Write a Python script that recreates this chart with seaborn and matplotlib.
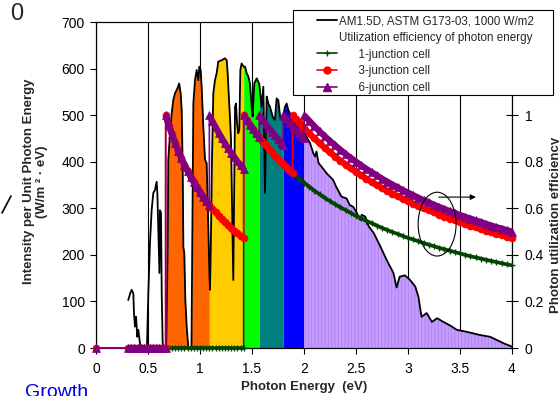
import numpy as np
import pandas as pd
import matplotlib
matplotlib.use("Agg")
import matplotlib.pyplot as plt
import seaborn as sns
from matplotlib.patches import Ellipse, Rectangle
from matplotlib.lines import Line2D

# ---------------- data ----------------
spec_energy = [
    0.31, 0.33, 0.343, 0.359, 0.365, 0.375, 0.385, 0.397, 0.407, 0.423,
    0.43, 0.49, 0.503, 0.519, 0.535, 0.551, 0.567, 0.583, 0.59, 0.60,
    0.61, 0.615, 0.625, 0.632, 0.641, 0.65, 0.675, 0.69, 0.695, 0.71,
    0.728, 0.743, 0.76, 0.782, 0.80, 0.814, 0.824, 0.834, 0.84, 0.849,
    0.859, 0.872, 0.888, 0.918, 0.926, 0.936, 0.952, 0.968, 0.984, 0.994,
    1.006, 1.016, 1.032, 1.048, 1.064, 1.08, 1.09, 1.096, 1.103, 1.115,
    1.128, 1.144, 1.16, 1.176, 1.21, 1.24, 1.257, 1.266, 1.279, 1.288,
    1.298, 1.311, 1.32, 1.33, 1.337, 1.346, 1.356, 1.368, 1.378, 1.388,
    1.40, 1.42, 1.433, 1.449, 1.465, 1.48, 1.497, 1.506, 1.522, 1.545,
    1.57, 1.593, 1.609, 1.625, 1.641, 1.657, 1.673, 1.70, 1.72, 1.737,
    1.753, 1.77, 1.785, 1.80, 1.817, 1.833, 1.849, 1.88, 1.913, 1.978,
    2.00, 2.058, 2.09, 2.106, 2.12, 2.14, 2.17, 2.218, 2.28, 2.31,
    2.36, 2.41, 2.44, 2.474, 2.51, 2.54, 2.555, 2.59, 2.62, 2.67,
    2.73, 2.795, 2.86, 2.89, 2.92, 2.97, 3.02, 3.07, 3.10, 3.13,
    3.18, 3.23, 3.28, 3.34, 3.40, 3.47, 3.56, 3.69, 3.79, 3.92,
    4.00,
]
spec_intensity = [
    103, 118, 125, 117, 75, 46, 67, 24, 39, 10,
    0, 0, 117, 225, 296, 333, 339, 357, 333, 247,
    161, 296, 290, 117, 10, 0, 0, 225, 404, 454,
    504, 532, 547, 557, 568, 547, 511, 382, 217, 204,
    103, 46, 0, 0, 225, 525, 575, 597, 575, 604,
    597, 561, 475, 404, 397, 260, 161, 125, 204, 400,
    547, 575, 590, 615, 618, 622, 618, 590, 532, 497,
    447, 268, 146, 375, 518, 525, 483, 461, 468, 597,
    611, 604, 604, 590, 583, 568, 518, 497, 568, 579,
    567, 518, 561, 333, 540, 525, 518, 496, 490, 536,
    532, 497, 490, 497, 518, 525, 511, 497, 490, 475,
    463, 440, 418, 411, 422, 397, 389, 375, 361, 346,
    325, 321, 307, 303, 289, 275, 286, 282, 262, 247,
    220, 189, 161, 130, 153, 156, 146, 132, 110, 67,
    75, 56, 64, 56, 49, 39, 35, 28, 24, 10,
    3,
]

# sub-cell colour bands (6-junction band gaps)
band_lo = [0.67, 1.09, 1.42, 1.57, 1.80, 2.00]
band_hi = [1.09, 1.42, 1.57, 1.80, 2.00, 4.00]
band_colors = ["#FF6600", "#FFCC00", "#00FF00", "#008080", "#0000FF", "#CC99FF"]

# photon-energy grids for the efficiency curves
energy_low = [0.0, 0.31, 0.34, 0.37, 0.40, 0.43, 0.46, 0.49, 0.52, 0.55, 0.58, 0.61, 0.64, 0.67]
eff_low = [0, 0, 0, 0, 0, 0, 0, 0, 0, 0, 0, 0, 0, 0]
energy_mid = [0.67, 0.70, 0.73, 0.76, 0.79, 0.82, 0.85, 0.88, 0.91, 0.94, 0.97, 1.00, 1.03,
              1.06, 1.09, 1.12, 1.15, 1.18, 1.21, 1.24, 1.27, 1.30, 1.33, 1.36, 1.39, 1.42]
energy_high = [1.42, 1.45, 1.48, 1.51, 1.54, 1.57, 1.60, 1.63, 1.66, 1.69, 1.72, 1.75, 1.78,
               1.80, 1.83, 1.86, 1.89, 1.92, 1.95, 1.98, 2.00, 2.05, 2.10, 2.15, 2.20, 2.25,
               2.30, 2.35, 2.40, 2.45, 2.50, 2.55, 2.60, 2.65, 2.70, 2.75, 2.80, 2.85, 2.90,
               2.95, 3.00, 3.05, 3.10, 3.15, 3.20, 3.25, 3.30, 3.35, 3.40, 3.45, 3.50, 3.55,
               3.60, 3.65, 3.70, 3.75, 3.80, 3.85, 3.90, 3.95, 4.00]

# efficiency values
eff_zero_mid = [0, 0, 0, 0, 0, 0, 0, 0, 0, 0, 0, 0, 0, 0, 0, 0, 0, 0, 0, 0, 0, 0, 0, 0, 0, 0]
eff_gap067 = [1.000, 0.957, 0.918, 0.882, 0.848, 0.817, 0.788, 0.761, 0.736, 0.713, 0.691,
              0.670, 0.650, 0.632, 0.615, 0.598, 0.583, 0.568, 0.554, 0.540, 0.528, 0.515,
              0.504, 0.493, 0.482, 0.472]
eff_gap109 = [1.000, 0.973, 0.948, 0.924, 0.901, 0.879, 0.858, 0.838, 0.820, 0.801, 0.784, 0.768]
eff_gap142 = [1.000, 0.979, 0.959, 0.940, 0.922, 0.904, 0.888, 0.871, 0.855, 0.840, 0.826,
              0.811, 0.798, 0.789, 0.776, 0.763, 0.751, 0.740, 0.728, 0.717, 0.710, 0.693,
              0.676, 0.660, 0.645, 0.631, 0.617, 0.604, 0.592, 0.580, 0.568, 0.557, 0.546,
              0.536, 0.526, 0.516, 0.507, 0.498, 0.490, 0.481, 0.473, 0.466, 0.458, 0.451,
              0.444, 0.437, 0.430, 0.424, 0.418, 0.412, 0.406, 0.400, 0.394, 0.389, 0.384,
              0.379, 0.374, 0.369, 0.364, 0.359, 0.355]
eff_gap157 = [1.000, 0.981, 0.963, 0.946, 0.929, 0.913, 0.897, 0.882, 0.872]
eff_gap180 = [1.000, 0.984, 0.968, 0.952, 0.938, 0.923, 0.909, 0.900]
eff_gap189 = [1.000, 0.984, 0.969, 0.955, 0.945, 0.922, 0.900, 0.879, 0.859, 0.840, 0.822,
              0.804, 0.788, 0.771, 0.756, 0.741, 0.727, 0.713, 0.700, 0.687, 0.675, 0.663,
              0.652, 0.641, 0.630, 0.620, 0.610, 0.600, 0.591, 0.582, 0.573, 0.564, 0.556,
              0.548, 0.540, 0.532, 0.525, 0.518, 0.511, 0.504, 0.497, 0.491, 0.485, 0.478,
              0.473]
eff_gap200 = [1.000, 0.976, 0.952, 0.930, 0.909, 0.889, 0.870, 0.851, 0.833, 0.816, 0.800,
              0.784, 0.769, 0.755, 0.741, 0.727, 0.714, 0.702, 0.690, 0.678, 0.667, 0.656,
              0.645, 0.635, 0.625, 0.615, 0.606, 0.597, 0.588, 0.580, 0.571, 0.563, 0.556,
              0.548, 0.541, 0.533, 0.526, 0.519, 0.513, 0.506, 0.500]

x_ticks = [0, 0.5, 1, 1.5, 2, 2.5, 3, 3.5, 4]
x_tick_labels = ["0", "0.5", "1", "1.5", "2", "2.5", "3", "3.5", "4"]
y_ticks = [0, 100, 200, 300, 400, 500, 600, 700]
y2_ticks = [0, 0.2, 0.4, 0.6, 0.8, 1.0]
y2_tick_labels = ["0", "0.2", "0.4", "0.6", "0.8", "1"]

legend_labels = ["AM1.5D, ASTM G173-03, 1000 W/m2",
                 "Utilization efficiency of photon energy",
                 "      1-junction cell",
                 "      3-junction cell",
                 "      6-junction cell"]

# ---------------- series assembly ----------------
j1_energy = energy_low + energy_mid + energy_high
j1_eff = eff_low + eff_zero_mid + eff_gap142
j1_segments = [(energy_low[1:] + energy_mid, eff_low[1:] + eff_zero_mid),
               (energy_high, eff_gap142)]

j3_energy = energy_low + energy_mid + energy_high[:17] + energy_high[16:]
j3_eff = eff_low + eff_gap067 + eff_gap142[:17] + eff_gap189
j3_segments = [(energy_low[1:], eff_low[1:]), (energy_mid, eff_gap067),
               (energy_high[:17], eff_gap142[:17]), (energy_high[16:], eff_gap189)]

j6_energy = (energy_low + energy_mid[:15] + energy_mid[14:] + energy_high[:6]
             + energy_high[5:14] + energy_high[13:21] + energy_high[20:])
j6_eff = (eff_low + eff_gap067[:15] + eff_gap109 + eff_gap142[:6]
          + eff_gap157 + eff_gap180 + eff_gap200)
j6_segments = [(energy_low[1:], eff_low[1:]), (energy_mid[:15], eff_gap067[:15]),
               (energy_mid[14:], eff_gap109), (energy_high[:6], eff_gap142[:6]),
               (energy_high[5:14], eff_gap157), (energy_high[13:21], eff_gap180),
               (energy_high[20:], eff_gap200)]

# ---------------- style ----------------
sns.set_theme(style="ticks")
plt.rcParams["font.family"] = ["Liberation Sans", "DejaVu Sans"]
plt.rcParams["hatch.color"] = "#A08CF2"
plt.rcParams["hatch.linewidth"] = 0.7

GREEN = "#004400"
RED = "#FF0000"
PURPLE = "#800080"

fig = plt.figure(figsize=(5.59, 3.96), dpi=100)
ax = fig.add_axes([96 / 559, 48 / 396, 416 / 559, 326 / 396])

E = np.array(spec_energy)
I = np.array(spec_intensity)
for lo, hi, col in zip(band_lo, band_hi, band_colors):
    m = (E >= lo) & (E <= hi)
    if col == "#CC99FF":
        ax.fill_between(E, 0, I, where=m, facecolor=col, edgecolor="#A08CF2",
                        hatch="|||||", linewidth=0, zorder=1)
    else:
        ax.fill_between(E, 0, I, where=m, facecolor=col, linewidth=0, zorder=1)

spec_df = pd.DataFrame({"energy": spec_energy, "intensity": spec_intensity})
sns.lineplot(data=spec_df, x="energy", y="intensity", ax=ax, color="black", lw=1.3,
             estimator=None, sort=False, zorder=3)

ax.set_xlim(0, 4)
ax.set_ylim(0, 700)
ax.set_xticks(x_ticks)
ax.set_xticklabels(x_tick_labels)
ax.set_yticks(y_ticks)
ax.set_axisbelow(True)
ax.xaxis.grid(True, color="black", lw=0.8)
ax.yaxis.grid(False)
ax.tick_params(axis="both", direction="out", length=4, width=0.8, labelsize=10,
               colors="black")
ax.tick_params(axis="x", pad=6)
ax.tick_params(axis="y", pad=4)
for s in ax.spines.values():
    s.set_color("black")
    s.set_linewidth(0.8)

ax.set_xlabel("Photon Energy  (eV)", fontsize=9.5, fontweight="bold")
ax.xaxis.set_label_coords(0.5, -0.101)
ax.set_ylabel("Intensity per Unit Photon Energy\n(W/m \u00b2 \u00b7 eV)", fontsize=9.5,
              fontweight="bold", linespacing=1.1)
ax.yaxis.set_label_coords(-0.115, 0.51)

ax2 = ax.twinx()
ax2.set_ylim(0, 1.4)

series = [
    (j1_energy, j1_eff, j1_segments, GREEN, "+", 5, 2.6, 4),
    (j3_energy, j3_eff, j3_segments, RED, "o", 5, 4.5, 5),
    (j6_energy, j6_eff, j6_segments, PURPLE, "^", 6, 4.5, 6),
]
for en, ef, segs, col, mk, ms, thick, z in series:
    # dense marker bands of each sub-cell segment
    for seg_e, seg_f in segs:
        sns.lineplot(x=seg_e, y=seg_f, ax=ax2, estimator=None, sort=False, color=col,
                     lw=thick, solid_capstyle="butt", clip_on=False, zorder=z)
    # the full series with its thin connecting line and markers
    sns.lineplot(x=en, y=ef, ax=ax2, estimator=None, sort=False, color=col, lw=1.2,
                 marker=mk, markersize=ms, markeredgecolor=col, markerfacecolor=col,
                 markeredgewidth=1.0 if mk == "+" else 0.5, clip_on=False, zorder=z)

ax2.set_ylabel("")
ax2.set_yticks(y2_ticks)
ax2.set_yticklabels(y2_tick_labels)
ax2.tick_params(axis="y", direction="inout", length=8, width=0.8, labelsize=10,
                colors="black", pad=5)
for s in ax2.spines.values():
    s.set_color("black")
    s.set_linewidth(0.8)

# ellipse + arrow annotation
ax2.add_patch(Ellipse((3.28, 0.532), width=0.365, height=0.274, fill=False,
                      edgecolor="black", lw=0.8, zorder=7))
ax2.annotate("", xy=(3.68, 0.648), xytext=(3.27, 0.648),
             arrowprops=dict(arrowstyle="-|>", color="black", lw=0.8,
                             mutation_scale=8), zorder=7)

# right axis title
fig.text(555.5 / 559, 1 - 225 / 396, "Photon utilization efficiency", rotation=90,
         ha="center", va="center", fontsize=9.5, fontweight="bold")

# legend box
fig.add_artist(Rectangle((293 / 559, 1 - 95 / 396), 260 / 559, 85 / 396,
                         transform=fig.transFigure, facecolor="white",
                         edgecolor="black", lw=0.8, zorder=4))
handles = [
    Line2D([], [], color="black", lw=1.3),
    Line2D([], [], linestyle="none"),
    Line2D([], [], color=GREEN, lw=1.2, marker="+", markersize=5, markeredgewidth=1.0),
    Line2D([], [], color=RED, lw=1.2, marker="o", markersize=5),
    Line2D([], [], color=PURPLE, lw=1.2, marker="^", markersize=6),
]
leg = fig.legend(handles, legend_labels, loc="upper left",
                 bbox_to_anchor=(317 / 559, 1 - 15 / 396), frameon=False, fontsize=8.4,
                 borderpad=0, borderaxespad=0, handlelength=1.7, handletextpad=0.2,
                 labelspacing=0.41)
leg.set_zorder(5)

# fragments at the edges of the cropped figure
fig.text(10 / 559, 1 - 14 / 396, "0", fontsize=17, ha="left", va="center")
fig.text(25 / 559, 1 - 384 / 396, "Growth", fontsize=14, color="#0000DD", ha="left",
         va="top")
fig.add_artist(Line2D([2 / 559, 11 / 559], [1 - 213 / 396, 1 - 196 / 396],
                      transform=fig.transFigure, color="black", lw=1.2))

fig.savefig("out.png", dpi=100)
